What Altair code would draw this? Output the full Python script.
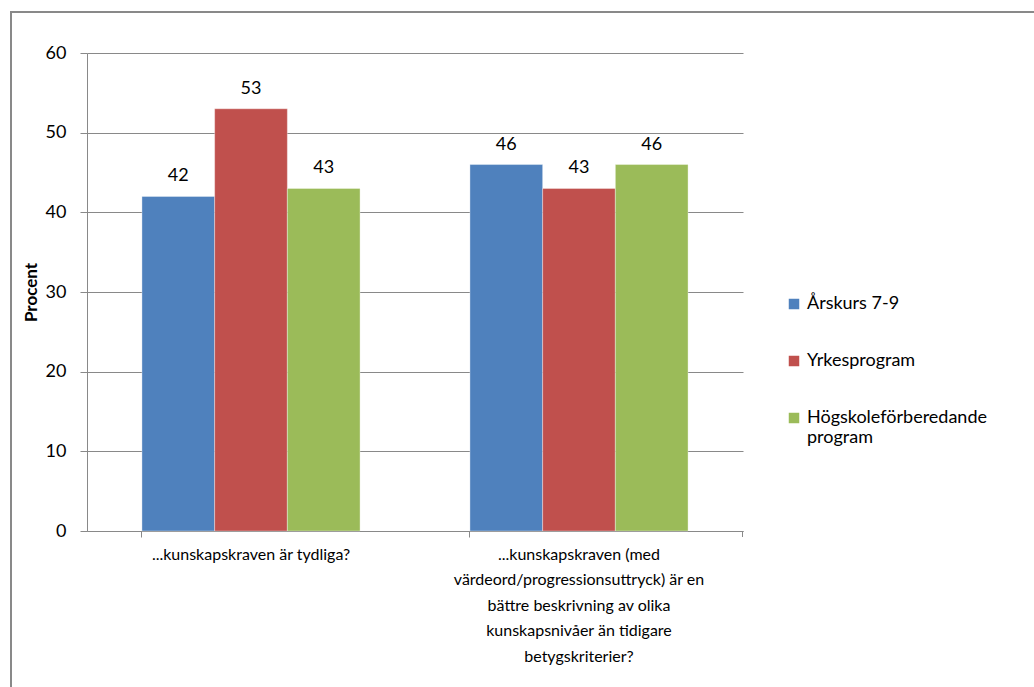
import altair as alt
import pandas as pd

# Survey results: share of teachers (percent) agreeing with each statement
questions = [
    "...kunskapskraven är tydliga?",
    "...kunskapskraven (med värdeord/progressionsuttryck) är en bättre beskrivning av olika kunskapsnivåer än tidigare betygskriterier?",
]
question_lines = [
    ["...kunskapskraven är tydliga?"],
    [
        "...kunskapskraven (med",
        "värdeord/progressionsuttryck) är en",
        "bättre beskrivning av olika",
        "kunskapsnivåer än tidigare",
        "betygskriterier?",
    ],
]
groups = ["Årskurs 7-9", "Yrkesprogram", "Högskoleförberedande program"]
group_lines = [["Årskurs 7-9"], ["Yrkesprogram"], ["Högskoleförberedande", "program"]]
colors = ["#4F81BD", "#C0504D", "#9BBB59"]

values = {
    "Årskurs 7-9": [42, 46],
    "Yrkesprogram": [53, 43],
    "Högskoleförberedande program": [43, 46],
}

rows = []
for g in groups:
    for q, v in zip(questions, values[g]):
        rows.append({"fraga": q, "grupp": g, "procent": v})
df = pd.DataFrame(rows)


def label_expr(names, lines):
    parts = []
    for n, ls in zip(names, lines):
        arr = "[" + ",".join("'" + s + "'" for s in ls) + "]"
        parts.append(f"datum.label == '{n}' ? {arr}")
    return " : ".join(parts) + " : datum.label"


FONT = "Lato"
GRAY = "#898989"
W, H = 656, 478
LEFT, TOP = 87, 53
TOTAL_W, TOTAL_H = 1034, 687

x_enc = alt.X(
    "fraga:N",
    sort=questions,
    title=None,
    scale=alt.Scale(paddingInner=0.335, paddingOuter=0.1675),
    axis=alt.Axis(
        labelAngle=0,
        labelExpr=label_expr(questions, question_lines),
        labelFontSize=16,
        labelLineHeight=25.5,
        labelColor="#000000",
        labelPadding=9,
        labelBaseline="top",
        bandPosition=0,
        tickSize=6,
        tickColor=GRAY,
        domainColor=GRAY,
        labelLimit=400,
    ),
)
y_enc = alt.Y(
    "procent:Q",
    title="Procent",
    scale=alt.Scale(domain=[0, 60]),
    axis=alt.Axis(
        values=[0, 10, 20, 30, 40, 50, 60],
        tickSize=7,
        tickColor=GRAY,
        domainColor=GRAY,
        gridColor=GRAY,
        labelFontSize=18,
        labelColor="#000000",
        labelPadding=14,
        titleFontSize=17,
        titleFontWeight="bold",
        titleColor="#000000",
        titlePadding=5,
    ),
)

bars = alt.Chart(df).mark_bar(stroke="white", strokeWidth=0.6, strokeOpacity=0.6).encode(
    x=x_enc,
    y=y_enc,
    xOffset=alt.XOffset("grupp:N", sort=groups, scale=alt.Scale(paddingInner=0, paddingOuter=0)),
    color=alt.Color(
        "grupp:N",
        sort=groups,
        scale=alt.Scale(domain=groups, range=colors),
        legend=alt.Legend(
            title=None,
            orient="none",
            legendX=W + 42,
            legendY=242,
            symbolType="square",
            symbolSize=110,
            symbolStrokeWidth=0,
            labelFontSize=18,
            labelColor="#000000",
            labelExpr=label_expr(groups, group_lines),
            labelOffset=4,
            rowPadding=39,
            labelLimit=300,
        ),
    ),
)

labels = alt.Chart(df).mark_text(
    baseline="bottom", dy=-11, fontSize=18, color="#000000", font=FONT
).encode(
    x=alt.X("fraga:N", sort=questions),
    xOffset=alt.XOffset("grupp:N", sort=groups),
    y="procent:Q",
    text="procent:Q",
)

# closing tick at the right end of the category axis
end_tick = alt.Chart(pd.DataFrame({"k": [0]})).mark_rule(color=GRAY, strokeWidth=1).encode(
    x=alt.value(W - 0.5), y=alt.value(H), y2=alt.value(H + 6)
)

# frame around the whole chart
frame = alt.Chart(pd.DataFrame({"k": [0]})).mark_rect(
    fill=None, stroke=GRAY, strokeWidth=2, clip=False
).encode(
    x=alt.value(-76), y=alt.value(-41), x2=alt.value(W + 400), y2=alt.value(H + 300)
)

chart = (
    alt.layer(frame, bars, labels, end_tick)
    .properties(
        width=W,
        height=H,
        autosize=alt.AutoSizeParams(type="none"),
        padding={
            "left": LEFT,
            "top": TOP,
            "right": TOTAL_W - LEFT - W,
            "bottom": TOTAL_H - TOP - H,
        },
    )
    .configure(font=FONT)
    .configure_view(stroke=None)
    .configure_axisX(grid=False)
)

chart.save("out.html", embed_options={"renderer": "svg", "actions": False})
